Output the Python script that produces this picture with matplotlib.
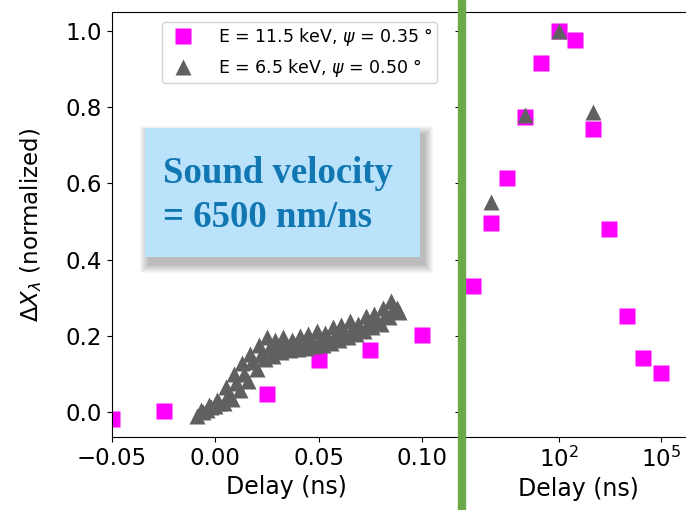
import numpy as np
import matplotlib
matplotlib.use("Agg")
import matplotlib.pyplot as plt
from matplotlib.patches import Rectangle
from matplotlib.lines import Line2D

# --- datos ---
# panel izquierdo (escala lineal, ns)
sq_x_lin = [-0.05, -0.025, 0.025, 0.05, 0.075, 0.10]
sq_y_lin = [-0.02, 0.003, 0.048, 0.137, 0.163, 0.202]

# triangulos: borde inferior, centro y borde superior de la nube
tri_x_low = [-0.009, -0.004, 0.000, 0.004, 0.008, 0.012, 0.016, 0.020, 0.024,
             0.028, 0.032, 0.036, 0.040, 0.044, 0.048, 0.052, 0.056, 0.060,
             0.064, 0.068, 0.072, 0.076, 0.080, 0.084, 0.088]
tri_y_low = [-0.010, 0.005, 0.015, 0.022, 0.035, 0.058, 0.082, 0.112, 0.138,
             0.148, 0.156, 0.162, 0.166, 0.169, 0.172, 0.176, 0.182, 0.189,
             0.196, 0.204, 0.212, 0.222, 0.232, 0.250, 0.272]
tri_x_mid = [-0.006, -0.002, 0.002, 0.006, 0.010, 0.014, 0.018, 0.022, 0.026,
             0.030, 0.034, 0.038, 0.042, 0.046, 0.050, 0.054, 0.058, 0.062,
             0.066, 0.070, 0.074, 0.078, 0.082, 0.086]
tri_y_mid = [0.000, 0.012, 0.024, 0.045, 0.075, 0.100, 0.130, 0.150, 0.165,
             0.170, 0.175, 0.178, 0.182, 0.186, 0.190, 0.192, 0.200, 0.208,
             0.216, 0.220, 0.232, 0.240, 0.252, 0.270]
tri_x_up = [-0.007, -0.003, 0.001, 0.005, 0.009, 0.013, 0.017, 0.021, 0.025,
            0.029, 0.033, 0.037, 0.041, 0.045, 0.049, 0.053, 0.057, 0.061,
            0.065, 0.069, 0.073, 0.077, 0.081, 0.085, 0.089]
tri_y_up = [0.005, 0.018, 0.032, 0.065, 0.100, 0.128, 0.152, 0.175, 0.196,
            0.188, 0.196, 0.190, 0.198, 0.204, 0.212, 0.206, 0.222, 0.228,
            0.238, 0.232, 0.252, 0.258, 0.272, 0.292, 0.262]

# panel derecho (escala log, ns)
sq_x_log = [0.3, 1, 3, 10, 30, 100, 300, 1e3, 3e3, 1e4, 3e4, 1e5]
sq_y_log = [0.331, 0.495, 0.613, 0.775, 0.915, 1.0, 0.976, 0.744, 0.48,
            0.252, 0.141, 0.103]

tri_x_log = [1, 10, 100, 1e3]
tri_y_log = [0.552, 0.78, 1.0, 0.788]

yticks = [0.0, 0.2, 0.4, 0.6, 0.8, 1.0]
xticks_lin = [-0.05, 0.00, 0.05, 0.10]
xticks_log = [1e2, 1e5]

lbl_sq = "E = 11.5 keV, $\\psi$ = 0.35 $\\degree$"
lbl_tri = "E = 6.5 keV, $\\psi$ = 0.50 $\\degree$"

MAGENTA = "#ff00ff"
GRIS = "#606060"
W, H = 686, 519


def fx(px):
    return px / W


def fy(py):
    return 1 - py / H


fig = plt.figure(figsize=(6.86, 5.19), dpi=100)

ax1 = fig.add_axes([fx(112), fy(437), fx(460) - fx(112), fy(12) - fy(437)])
ax2 = fig.add_axes([fx(460), fy(437), fx(696) - fx(460), fy(12) - fy(437)])

ms = 11
ax1.plot(sq_x_lin, sq_y_lin, "s", color=MAGENTA, ms=ms, mec="none", label=lbl_sq)
ax1.plot(tri_x_low + tri_x_mid + tri_x_up, tri_y_low + tri_y_mid + tri_y_up,
         "^", color=GRIS, ms=ms, mec="none", label=lbl_tri)
ax2.plot(sq_x_log, sq_y_log, "s", color=MAGENTA, ms=ms, mec="none")
ax2.plot(tri_x_log, tri_y_log, "^", color=GRIS, ms=ms, mec="none")

ylim = (-0.066, 1.05)
ax1.set_xticks(xticks_lin)
ax1.set_yticks(yticks)
ax1.set_xlim(-0.05, 0.05 + (460 - 318.6) / 103.3 * 0.05)
ax1.set_ylim(*ylim)
ax1.tick_params(labelsize=16.5)
ax1.set_xlabel("Delay (ns)", fontsize=17, labelpad=4)
ax1.set_ylabel("$\\Delta X_\\lambda$ (normalized)", fontsize=16.5, labelpad=16)

ax2.set_xscale("log")
ax2.set_xticks(xticks_log)
ax2.xaxis.set_minor_locator(matplotlib.ticker.NullLocator())
ax2.set_yticks(yticks)
ax2.set_yticklabels([])
ax2.set_xlim(10 ** (2 - (559 - 460) / 34), 10 ** (5 + (696 - 661) / 34))
ax2.set_ylim(*ylim)
ax2.tick_params(labelsize=16.5)
ax2.set_xlabel("Delay (ns)", fontsize=17, labelpad=4)

ax1.legend(loc="upper left", bbox_to_anchor=(fx(153), fy(13)),
           bbox_transform=fig.transFigure, fontsize=12.5, framealpha=0.8,
           handletextpad=1.0, borderpad=0.25, labelspacing=0.5)

# linea verde de separacion
fig.lines.append(Line2D([fx(462), fx(462)], [fy(0), fy(510)],
                        transform=fig.transFigure, color="#6aaa4a", lw=6,
                        solid_capstyle="butt"))

# caja de texto con sombra difusa
bx0, by0, bx1, by1 = 145, 128, 420, 257
for g in range(9, 0, -1):
    fig.patches.append(Rectangle((fx(bx0 + 4 - g), fy(by1 + 7 + g)),
                                 fx(bx1 - bx0 + 2 * g), fy(0) - fy(by1 - by0 + 2 * g),
                                 transform=fig.transFigure, color="black",
                                 alpha=0.03, lw=0))
fig.patches.append(Rectangle((fx(bx0), fy(by1)), fx(bx1 - bx0), fy(0) - fy(by1 - by0),
                             transform=fig.transFigure, facecolor="#bbe2fb",
                             lw=0))
fig.text(fx(163), fy(183), "Sound velocity", family="Liberation Serif",
         weight="bold", fontsize=26.5, color="#1177b2", va="baseline")
fig.text(fx(163), fy(227), "= 6500 nm/ns", family="Liberation Serif",
         weight="bold", fontsize=26.5, color="#1177b2", va="baseline")

plt.savefig("out.png", dpi=100)
